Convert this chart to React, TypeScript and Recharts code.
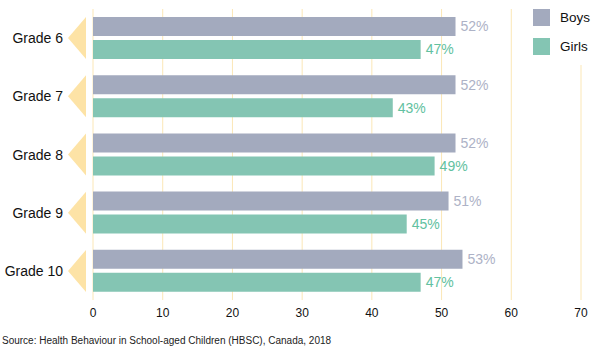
import React from "react";
import { BarChart, Bar, XAxis, YAxis, CartesianGrid, Legend, LabelList } from "recharts";

const grades = ["Grade 6", "Grade 7", "Grade 8", "Grade 9", "Grade 10"];
const boys = [52, 52, 52, 51, 53];
const girls = [47, 43, 49, 45, 47];
const xTicks = [0, 10, 20, 30, 40, 50, 60, 70];

const BOYS = "#a3aabe";
const GIRLS = "#84c5b3";
const BOYS_LABEL = "#adb2c6";
const GIRLS_LABEL = "#62c1a0";
const GRID = "#fbe7b6";
const TRI = "#fde3a6";
const FONT = "'Liberation Sans', Arial, Helvetica, sans-serif";

const data = grades.map((g, i) => ({ grade: g, boys: boys[i], girls: girls[i] }));

const GradeTick = (props: any) => {
  const { x, y, payload } = props;
  return (
    <g>
      <polygon points={`${x - 25},${y} ${x - 7},${y - 21} ${x - 7},${y + 21}`} fill={TRI} />
      <text x={x - 30} y={y} textAnchor="end" dominantBaseline="central" fontSize={14} fill="#111" fontFamily={FONT}>
        {payload.value}
      </text>
    </g>
  );
};

const LegendContent = () => (
  <div style={{ background: "#fff", width: 80, height: 65, fontFamily: FONT, fontSize: 13.5, color: "#111" }}>
    {[{ c: BOYS, t: "Boys" }, { c: GIRLS, t: "Girls" }].map((it, i) => (
      <div key={i} style={{ position: "absolute", left: 9, top: 9 + i * 29, display: "flex", alignItems: "center" }}>
        <span style={{ display: "inline-block", width: 17, height: 17, background: it.c, marginRight: 10 }} />
        <span>{it.t}</span>
      </div>
    ))}
  </div>
);

export default function App() {
  return (
    <div style={{ position: "absolute", left: 0, top: 0, width: 600, height: 350, background: "#fff" }}>
      <BarChart
        width={600}
        height={350}
        data={data}
        layout="vertical"
        margin={{ top: 9, right: 19, bottom: 20, left: 0 }}
        barSize={19}
        barGap={4}
      >
        <CartesianGrid vertical horizontal={false} stroke={GRID} strokeWidth={1} />
        <XAxis
          type="number"
          domain={[0, 70]}
          ticks={xTicks}
          axisLine={false}
          tickLine={false}
          tick={{ fontSize: 12, fill: "#111", fontFamily: FONT }}
          height={30}
        />
        <YAxis
          type="category"
          dataKey="grade"
          width={93}
          axisLine={false}
          tickLine={false}
          tickSize={0}
          tickMargin={0}
          tick={<GradeTick />}
        />
        <Legend
          layout="vertical"
          align="center"
          verticalAlign="middle"
          content={<LegendContent />}
          wrapperStyle={{ left: 524, top: 0, width: 80, height: 65 }}
        />
        <Bar dataKey="boys" fill={BOYS} isAnimationActive={false}>
          <LabelList dataKey="boys" position="right" offset={5} formatter={(v: any) => `${v}%`} style={{ fill: BOYS_LABEL, fontSize: 14, fontFamily: FONT }} />
        </Bar>
        <Bar dataKey="girls" fill={GIRLS} isAnimationActive={false}>
          <LabelList dataKey="girls" position="right" offset={5} formatter={(v: any) => `${v}%`} style={{ fill: GIRLS_LABEL, fontSize: 14, fontFamily: FONT }} />
        </Bar>
      </BarChart>
      <div style={{ position: "absolute", left: 2, top: 335, fontSize: 10, fontFamily: FONT, color: "#222", whiteSpace: "nowrap" }}>
        Source: Health Behaviour in School-aged Children (HBSC), Canada, 2018
      </div>
    </div>
  );
}
